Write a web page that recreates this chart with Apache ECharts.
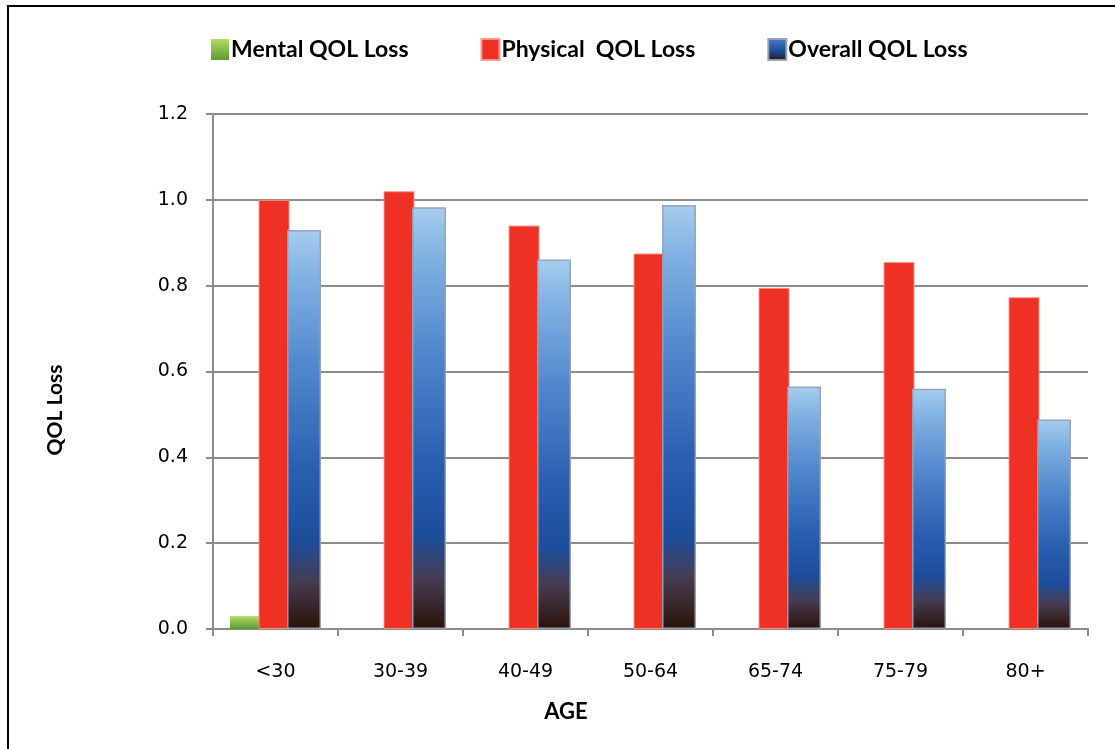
<!DOCTYPE html>
<html>
<head>
<meta charset="utf-8">
<title>QOL Loss by Age</title>
<script src="https://cdn.jsdelivr.net/npm/echarts@6/dist/echarts.min.js"></script>
<style>
  html, body { margin: 0; padding: 0; background: #ffffff; }
  #chart { width: 1115px; height: 749px; }
</style>
</head>
<body>
<div id="chart"></div>
<script>
// Age groups on the category axis
const ageGroups = ['<30', '30-39', '40-49', '50-64', '65-74', '75-79', '80+'];

// Quality-of-life loss per age group
const mentalLoss   = [0.03, 0, 0, 0, 0, 0, 0];
const physicalLoss = [1.00, 1.02, 0.94, 0.875, 0.795, 0.855, 0.773];
const overallLoss  = [0.93, 0.983, 0.861, 0.988, 0.565, 0.56, 0.488];

// Value axis ticks
const yTicks = { min: 0, max: 1.2, interval: 0.2 };

const chart = echarts.init(document.getElementById('chart'), null, { renderer: 'canvas' });

const axisGray = '#8c8c8c';
const labelFont = 'DejaVu Sans';
const boldFont = 'Lato';

const greenFill = new echarts.graphic.LinearGradient(0, 0, 0, 1, [
  { offset: 0, color: '#b4da66' },
  { offset: 1, color: '#5b9a32' }
]);
// Light blue cap fading through saturated blue into a dark brown base
const blueFill = new echarts.graphic.LinearGradient(0, 0, 0, 1, [
  { offset: 0.00, color: '#a5cdef' },
  { offset: 0.12, color: '#80b1e2' },
  { offset: 0.35, color: '#4f86cc' },
  { offset: 0.60, color: '#2a5fb0' },
  { offset: 0.78, color: '#1c4d9c' },
  { offset: 0.88, color: '#463c52' },
  { offset: 1.00, color: '#2b1208' }
]);
const legendBlue = new echarts.graphic.LinearGradient(0, 0, 0, 1, [
  { offset: 0, color: '#4a7cc4' },
  { offset: 0.6, color: '#1d4a94' },
  { offset: 1, color: '#2b1208' }
]);

chart.setOption({
  backgroundColor: '#ffffff',
  animation: false,
  legend: {
    top: 33,
    left: 206,
    itemWidth: 18,
    itemHeight: 21,
    itemGap: 72,
    icon: 'rect',
    textStyle: { fontFamily: boldFont, fontWeight: 'bold', fontSize: 23, color: '#000000', padding: [0, 0, 0, -3] },
    data: [
      { name: 'Mental QOL Loss', itemStyle: { color: greenFill } },
      { name: 'Physical  QOL Loss', itemStyle: { color: '#ee3124' } },
      { name: 'Overall QOL Loss', itemStyle: { color: legendBlue } }
    ]
  },
  grid: { left: 213, right: 27, top: 114, bottom: 120, containLabel: false },
  xAxis: {
    type: 'category',
    data: ageGroups,
    axisLine: { lineStyle: { color: axisGray, width: 2 } },
    axisTick: { show: true, length: 7, lineStyle: { color: axisGray, width: 2 } },
    axisLabel: { fontFamily: labelFont, fontSize: 19, color: '#000000', margin: 34 }
  },
  yAxis: {
    type: 'value',
    min: yTicks.min,
    max: yTicks.max,
    interval: yTicks.interval,
    axisLine: { show: true, lineStyle: { color: axisGray, width: 2 } },
    axisTick: { show: true, length: 7, lineStyle: { color: axisGray, width: 2 } },
    splitLine: { show: true, lineStyle: { color: axisGray, width: 2 } },
    axisLabel: {
      fontFamily: labelFont, fontSize: 19, color: '#000000', margin: 25,
      formatter: v => v.toFixed(1)
    }
  },
  graphic: [
    {
      type: 'rect', silent: true, z: -1,
      shape: { x: 8, y: 6, width: 1200, height: 800 },
      style: { fill: 'none', stroke: '#000000', lineWidth: 2 }
    },
    {
      type: 'text', x: 55, y: 410, rotation: Math.PI / 2,
      style: {
        text: 'QOL Loss', fontFamily: boldFont, fontWeight: 'bold', fontSize: 21,
        fill: '#000000', align: 'center', verticalAlign: 'middle'
      }
    },
    {
      type: 'text', x: 566, y: 712,
      style: {
        text: 'AGE', fontFamily: boldFont, fontWeight: 'bold', fontSize: 22,
        fill: '#000000', align: 'center', verticalAlign: 'middle'
      }
    }
  ],
  series: [
    {
      name: 'Mental QOL Loss', type: 'bar', data: mentalLoss,
      barWidth: 31, barGap: '-8%',
      itemStyle: { color: greenFill }
    },
    {
      name: 'Physical  QOL Loss', type: 'bar', data: physicalLoss,
      barWidth: 31, barGap: '-8%',
      itemStyle: { color: '#ee3124', borderColor: 'rgba(246,150,140,0.9)', borderWidth: 1 }
    },
    {
      name: 'Overall QOL Loss', type: 'bar', data: overallLoss,
      barWidth: 34, barGap: '-8%',
      itemStyle: { color: blueFill, borderColor: 'rgba(150,160,180,0.95)', borderWidth: 1.5 }
    }
  ]
});
</script>
</body>
</html>
